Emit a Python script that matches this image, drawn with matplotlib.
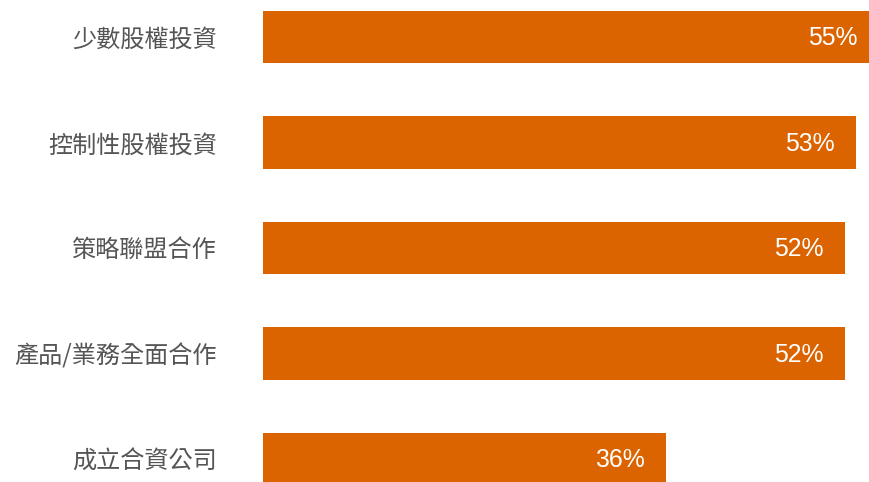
import matplotlib

matplotlib.use("Agg")
import matplotlib.pyplot as plt

categories = ["少數股權投資", "控制性股權投資", "策略聯盟合作", "產品/業務全面合作", "成立合資公司"]
shares = [55, 53, 52, 52, 36]

BAR_COLOR = "#DB6400"
LABEL_COLOR = "#555555"

fig = plt.figure(figsize=(8.69, 4.82), dpi=100)
fig.patch.set_facecolor("white")
ax = fig.add_axes([263 / 869, 0, 1 - 263 / 869, 1])

ypos = list(range(len(categories)))
ax.barh(ypos, shares, height=0.495, color=BAR_COLOR)

# value labels sit inside the bar end; the longest bar runs past the edge
for y, v in zip(ypos, shares):
    ax.annotate(f"{v}%", xy=(v, y), xytext=(-21, -1), textcoords="offset pixels",
                ha="right", va="center", color="white", fontsize=17.8,
                family=["Liberation Sans", "DejaVu Sans"], annotation_clip=False)

ax.set_xlim(0, 54.15)
ax.set_ylim(4.218, -0.351)
ax.set_yticks(ypos)
ax.set_yticklabels(categories, family=["Noto Sans CJK TC", "DejaVu Sans"],
                   fontsize=17.4, color=LABEL_COLOR)
ax.tick_params(axis="y", length=0, pad=33)
ax.set_xticks([])
for side in ax.spines.values():
    side.set_visible(False)

fig.savefig("out.png", dpi=100, facecolor="white")
